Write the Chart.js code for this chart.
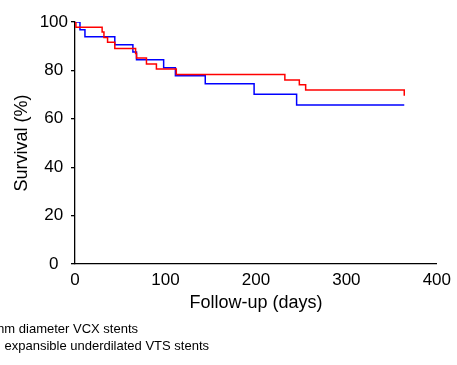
<!DOCTYPE html>
<html>
<head>
<meta charset="utf-8">
<script src="https://cdn.jsdelivr.net/npm/chart.js@4/dist/chart.umd.min.js"></script>
<style>
    html, body { margin: 0; padding: 0; background: #ffffff; }
    #wrap { width: 457px; height: 365px; position: relative; }
</style>
</head>
<body>
<div id="wrap"><canvas id="kmChart"></canvas></div>
<script>
// Kaplan-Meier survival data (day of event, survival % after it)
const redDays = [0, 1, 30, 32, 36, 44, 67, 68, 79, 90, 112, 232, 248, 255, 364];
const redSurvival = [100, 97.8, 95.9, 93.6, 91.6, 89.1, 87.0, 85.1, 82.6, 80.6, 78.3, 76.0, 74.1, 71.9, 69.5];

const blueDays = [0, 5.5, 11, 44, 64, 68, 98, 111, 144, 198, 245, 364];
const blueSurvival = [100, 96.8, 93.9, 90.6, 87.6, 84.4, 81.1, 77.8, 74.5, 70.1, 65.7, 65.7];

const xTicks = [0, 100, 200, 300, 400];
const yTicks = [0, 20, 40, 60, 80, 100];

const legendLabels = ['mm diameter VCX stents', 'expansible underdilated VTS stents'];

// Turn two arrays into {x, y} points
function toPoints(days, values) {
    return days.map((d, i) => ({ x: d, y: values[i] }));
}

// Legend text under the plot (cut off at the left in the original figure)
const legendText = {
    id: 'legendText',
    afterDraw(chart) {
        const ctx = chart.ctx;
        ctx.save();
        ctx.font = '13px "Liberation Sans", Arial, sans-serif';
        ctx.fillStyle = '#000000';
        ctx.textAlign = 'right';
        ctx.textBaseline = 'alphabetic';
        ctx.fillText(legendLabels[0], 138, 333);
        ctx.fillText(legendLabels[1], 209, 350);
        ctx.restore();
    }
};

const ctx = document.getElementById('kmChart').getContext('2d');

new Chart(ctx, {
    type: 'line',
    data: {
        datasets: [{
            label: 'VTS',
            data: toPoints(redDays, redSurvival),
            borderColor: '#ff0000',
            borderWidth: 1.5,
            stepped: 'before',
            pointRadius: 0,
            fill: false
        }, {
            label: 'VCX',
            data: toPoints(blueDays, blueSurvival),
            borderColor: '#0000ff',
            borderWidth: 1.5,
            stepped: 'before',
            pointRadius: 0,
            fill: false
        }]
    },
    options: {
        responsive: true,
        maintainAspectRatio: false,
        animation: false,
        layout: {
            padding: { left: 8, right: 19, top: 22, bottom: 51 }
        },
        plugins: {
            legend: { display: false },
            tooltip: { enabled: false }
        },
        scales: {
            x: {
                type: 'linear',
                min: 0,
                max: 400,
                afterBuildTicks: (axis) => { axis.ticks = xTicks.map(v => ({ value: v })); },
                afterFit: (axis) => { axis.height = 50; },
                border: { color: '#000000', width: 1.3 },
                grid: { display: true, drawOnChartArea: false, drawTicks: false, color: '#000000' },
                ticks: {
                    padding: 6,
                    color: '#000000',
                    font: { family: '"Liberation Sans", Arial, sans-serif', size: 17 },
                    maxRotation: 0
                },
                title: {
                    display: true,
                    text: 'Follow-up (days)',
                    color: '#000000',
                    padding: { top: 0, bottom: 0 },
                    font: { family: '"Liberation Sans", Arial, sans-serif', size: 18 }
                }
            },
            y: {
                min: 0,
                max: 100,
                afterBuildTicks: (axis) => { axis.ticks = yTicks.map(v => ({ value: v })); },
                afterFit: (axis) => { axis.width = 67; },
                border: { color: '#000000', width: 1.3 },
                grid: { display: true, drawOnChartArea: false, drawTicks: true, tickLength: 4, color: '#000000', lineWidth: 1.3 },
                ticks: {
                    padding: 3,
                    crossAlign: 'center',
                    color: '#000000',
                    font: { family: '"Liberation Sans", Arial, sans-serif', size: 17 }
                },
                title: {
                    display: true,
                    text: 'Survival (%)',
                    color: '#000000',
                    padding: { top: 3, bottom: 0 },
                    font: { family: '"Liberation Sans", Arial, sans-serif', size: 18 }
                }
            }
        }
    },
    plugins: [legendText]
});
</script>
</body>
</html>
